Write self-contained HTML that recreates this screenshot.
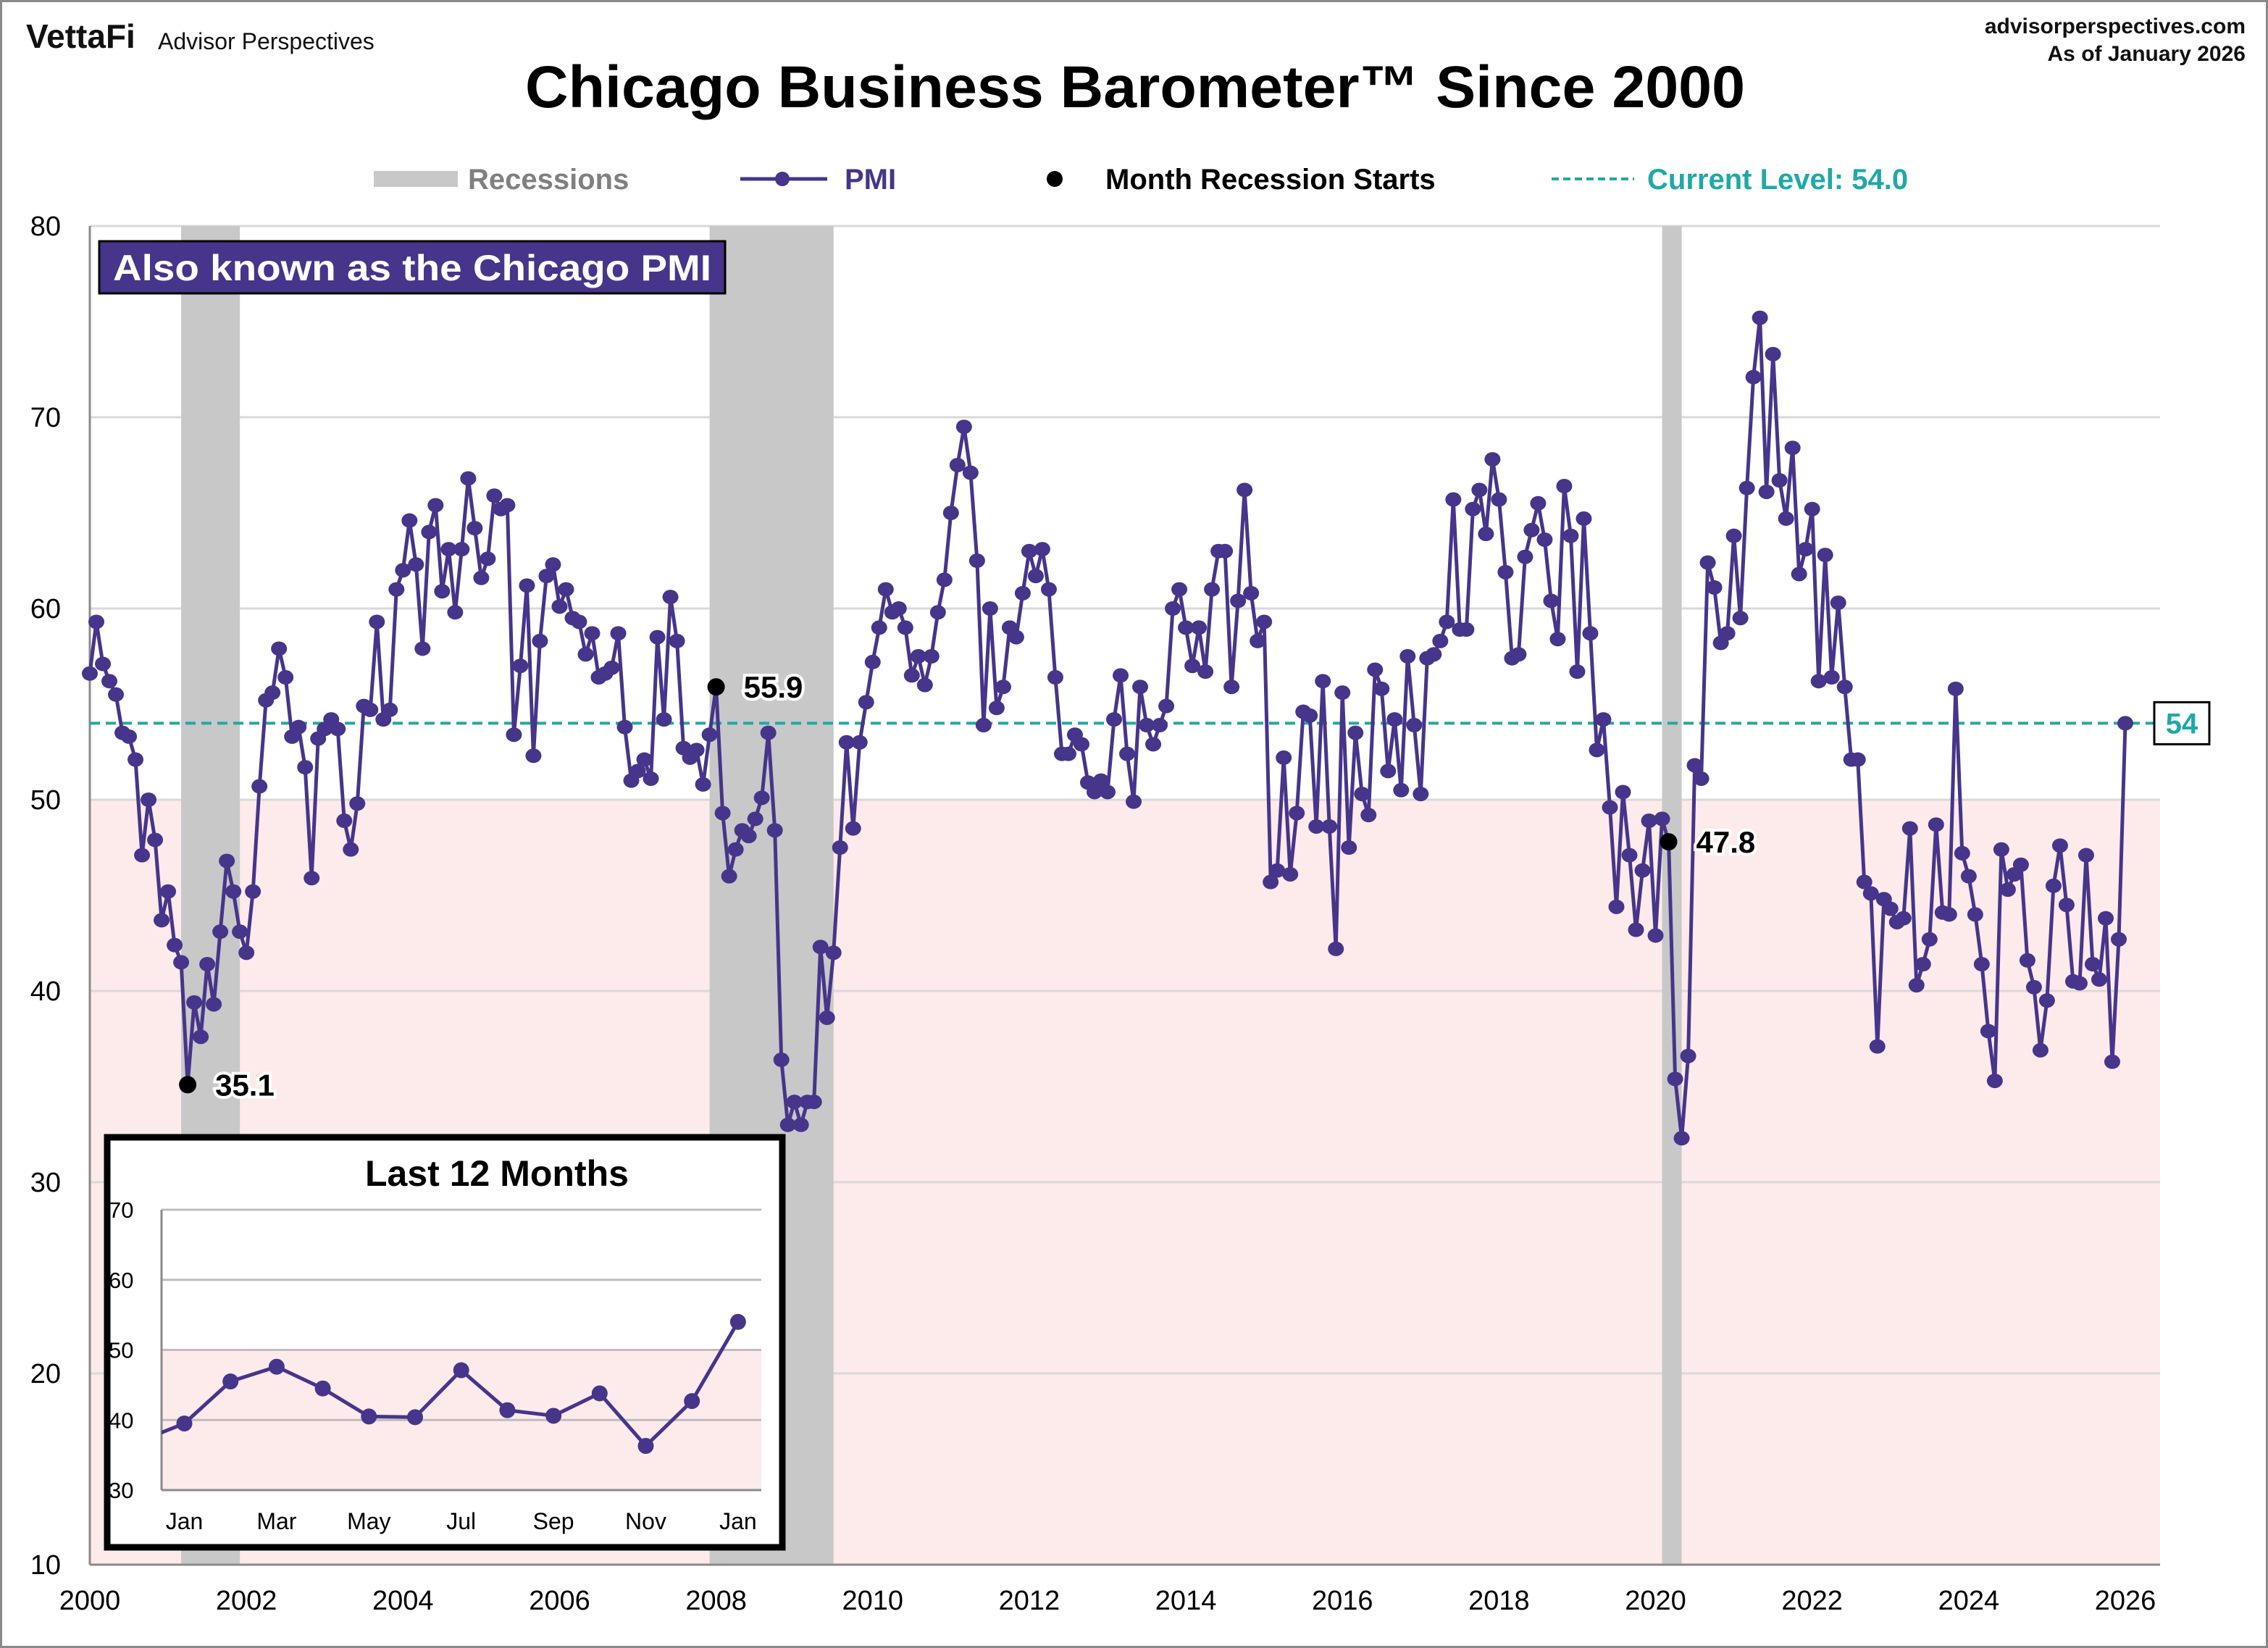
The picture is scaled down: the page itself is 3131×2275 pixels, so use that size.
<!DOCTYPE html>
<html><head><meta charset="utf-8"><title>Chicago Business Barometer Since 2000</title>
<style>
html,body{margin:0;padding:0;background:#fff;}
svg{display:block;font-family:"Liberation Sans",Arial,sans-serif;}
</style></head>
<body>
<svg id="chart" xmlns="http://www.w3.org/2000/svg" width="3131" height="2275" viewBox="0 0 3131 2275">
  <rect x="1.5" y="1.5" width="3128" height="2272" fill="#fff" stroke="#8a8a8a" stroke-width="3"/>
  <g id="plot"></g>
  <text x="36" y="66" font-size="46" font-weight="bold" fill="#111">VettaFi</text>
  <text x="218" y="68" font-size="32" fill="#111">Advisor Perspectives</text>
  <text x="3100" y="46" font-size="30" font-weight="bold" text-anchor="end" fill="#111">advisorperspectives.com</text>
  <text x="3100" y="84" font-size="30" font-weight="bold" text-anchor="end" fill="#111">As of January 2026</text>
  <text x="1567" y="148" font-size="82" font-weight="bold" text-anchor="middle" textLength="1684" lengthAdjust="spacingAndGlyphs" fill="#000">Chicago Business Barometer™ Since 2000</text>
  <g>
    <g>
      <rect x="516" y="236" width="116" height="22" fill="#c8c8c8"/>
      <text x="646" y="261" font-size="40" font-weight="bold" fill="#808080">Recessions</text>
    </g>
    <g>
      <line x1="1022" y1="247" x2="1142" y2="247" stroke="#46358a" stroke-width="5"/>
      <circle cx="1080" cy="247" r="10" fill="#46358a"/>
      <text x="1166" y="261" font-size="40" font-weight="bold" fill="#46358a">PMI</text>
    </g>
    <g>
      <circle cx="1456" cy="247" r="11" fill="#000"/>
      <text x="1526" y="261" font-size="40" font-weight="bold" fill="#000">Month Recession Starts</text>
    </g>
    <g>
      <line x1="2142" y1="247" x2="2256" y2="247" stroke="#20a8a8" stroke-width="4" stroke-dasharray="10,6"/>
      <text x="2274" y="261" font-size="40" font-weight="bold" fill="#20a8a8">Current Level: 54.0</text>
    </g>
  </g>
</svg>
<script>
const startYear = 2000;
const pmi2000 = [56.6,59.3,57.1,56.2,55.5,53.5,53.3,52.1,47.1,50.0,47.9,43.7];
const pmi2001 = [45.2,42.4,41.5,35.1,39.4,37.6,41.4,39.3,43.1,46.8,45.2,43.1];
const pmi2002 = [42.0,45.2,50.7,55.2,55.6,57.9,56.4,53.3,53.8,51.7,45.9,53.2];
const pmi2003 = [53.7,54.2,53.7,48.9,47.4,49.8,54.9,54.7,59.3,54.2,54.7,61.0];
const pmi2004 = [62.0,64.6,62.3,57.9,64.0,65.4,60.9,63.1,59.8,63.1,66.8,64.2];
const pmi2005 = [61.6,62.6,65.9,65.2,65.4,53.4,57.0,61.2,52.3,58.3,61.7,62.3];
const pmi2006 = [60.1,61.0,59.5,59.3,57.6,58.7,56.4,56.6,56.9,58.7,53.8,51.0];
const pmi2007 = [51.5,52.1,51.1,58.5,54.2,60.6,58.3,52.7,52.2,52.6,50.8,53.4];
const pmi2008 = [55.9,49.3,46.0,47.4,48.4,48.1,49.0,50.1,53.5,48.4,36.4,33.0];
const pmi2009 = [34.2,33.0,34.2,34.2,42.3,38.6,42.0,47.5,53.0,48.5,53.0,55.1];
const pmi2010 = [57.2,59.0,61.0,59.8,60.0,59.0,56.5,57.5,56.0,57.5,59.8,61.5];
const pmi2011 = [65.0,67.5,69.5,67.1,62.5,53.9,60.0,54.8,55.9,59.0,58.5,60.8];
const pmi2012 = [63.0,61.7,63.1,61.0,56.4,52.4,52.4,53.4,52.9,50.9,50.4,51.0];
const pmi2013 = [50.4,54.2,56.5,52.4,49.9,55.9,53.9,52.9,53.9,54.9,60.0,61.0];
const pmi2014 = [59.0,57.0,59.0,56.7,61.0,63.0,63.0,55.9,60.4,66.2,60.8,58.3];
const pmi2015 = [59.3,45.7,46.3,52.2,46.1,49.3,54.6,54.4,48.6,56.2,48.6,42.2];
const pmi2016 = [55.6,47.5,53.5,50.3,49.2,56.8,55.8,51.5,54.2,50.5,57.5,53.9];
const pmi2017 = [50.3,57.4,57.6,58.3,59.3,65.7,58.9,58.9,65.2,66.2,63.9,67.8];
const pmi2018 = [65.7,61.9,57.4,57.6,62.7,64.1,65.5,63.6,60.4,58.4,66.4,63.8];
const pmi2019 = [56.7,64.7,58.7,52.6,54.2,49.6,44.4,50.4,47.1,43.2,46.3,48.9];
const pmi2020 = [42.9,49.0,47.8,35.4,32.3,36.6,51.8,51.1,62.4,61.1,58.2,58.7];
const pmi2021 = [63.8,59.5,66.3,72.1,75.2,66.1,73.3,66.7,64.7,68.4,61.8,63.1];
const pmi2022 = [65.2,56.2,62.8,56.4,60.3,55.9,52.1,52.1,45.7,45.1,37.1,44.8];
const pmi2023 = [44.3,43.6,43.8,48.5,40.3,41.4,42.7,48.7,44.1,44.0,55.8,47.2];
const pmi2024 = [46.0,44.0,41.4,37.9,35.3,47.4,45.3,46.1,46.6,41.6,40.2,36.9];
const pmi2025 = [39.5,45.5,47.6,44.5,40.5,40.4,47.1,41.4,40.6,43.8,36.3,42.7];
const pmi2026 = [54.0];
const currentLevel = 54.0;
const yTicks = [10,20,30,40,50,60,70,80];
const xTickYears = [2000,2002,2004,2006,2008,2010,2012,2014,2016,2018,2020,2022,2024,2026];
const recessionStartIdx = [14, 95, 241];
const recessionEndIdx = [23, 114, 244];
const markerIdx = [15, 96, 242];
const markerLabels = ["35.1","55.9","47.8"];
const insetMonths = ["Jan","Mar","May","Jul","Sep","Nov","Jan"];
const insetTicks = [30,40,50,60,70];

const pmi = [].concat(pmi2000,pmi2001,pmi2002,pmi2003,pmi2004,pmi2005,pmi2006,pmi2007,pmi2008,pmi2009,pmi2010,pmi2011,pmi2012,pmi2013,pmi2014,pmi2015,pmi2016,pmi2017,pmi2018,pmi2019,pmi2020,pmi2021,pmi2022,pmi2023,pmi2024,pmi2025,pmi2026);

const NS = "http://www.w3.org/2000/svg";
const svg = document.getElementById('chart');
const plot = document.getElementById('plot');
const L = 124, R = 2982, T = 312, B = 2160;
const yMin = 10, yMax = 80;
const nMonths = (2026 - startYear) * 12;
function x(i){ return L + i * (2934 - L) / nMonths; }
function y(v){ return B - (v - yMin) * (B - T) / (yMax - yMin); }
function mk(tag, attrs, parent){ const e = document.createElementNS(NS, tag); for (const k in attrs) e.setAttribute(k, attrs[k]); (parent||plot).appendChild(e); return e; }

let e = mk('rect', {x:L, y:y(50), width:R-L, height:B-y(50), fill:'#fdeaea'});


yTicks.forEach(v => {
  if (v === yMin) return;
  const g = mk('line', {x1:L, x2:R, y1:y(v), y2:y(v), stroke:'#d9d9d9', 'stroke-width':3});
  
  
});
recessionStartIdx.forEach((s, k) => {
  const r = mk('rect', {x:x(s), y:T, width:x(recessionEndIdx[k]) - x(s), height:B - T, fill:'#c8c8c8'});
  
  
});
e = mk('line', {x1:L, x2:L, y1:T, y2:B, stroke:'#8a8a8a', 'stroke-width':3});


e = mk('line', {x1:L, x2:R, y1:B, y2:B, stroke:'#8a8a8a', 'stroke-width':3});


yTicks.forEach(v => {
  const t = mk('text', {x:84, y:y(v) + 13, 'font-size':38, 'text-anchor':'end', fill:'#000'});
  t.textContent = v;
  
  
});
xTickYears.forEach(yr => {
  const t = mk('text', {x:x((yr - startYear) * 12), y:2222, 'font-size':38, 'text-anchor':'middle', fill:'#000'});
  t.textContent = yr;
  
  
});
e = mk('line', {x1:L, x2:R, y1:y(currentLevel), y2:y(currentLevel), stroke:'#20a8a8', 'stroke-width':4, 'stroke-dasharray':'14,8'});


e = mk('rect', {x:2974, y:y(currentLevel) - 29, width:76, height:58, fill:'#fff', stroke:'#000', 'stroke-width':3});


e = mk('text', {x:3012, y:y(currentLevel) + 14, 'font-size':40, 'font-weight':'bold', 'text-anchor':'middle', fill:'#20a8a8'});
e.textContent = Math.round(currentLevel);


e = mk('polyline', {points: pmi.map((v,i) => x(i).toFixed(1) + ',' + y(v).toFixed(1)).join(' '), fill:'none', stroke:'#46358a', 'stroke-width':5, 'stroke-linejoin':'round'});


pmi.forEach((v,i) => {
  const c = mk('ellipse', {cx:x(i), cy:y(v), rx:11, ry:10, fill:'#46358a'});
  
  
});
markerIdx.forEach((i,k) => {
  const c = mk('circle', {cx:x(i), cy:y(pmi[i]), r:12, fill:'#000'});
  
  
  const t = mk('text', {x:x(i) + 38, y:y(pmi[i]) + 15, 'font-size':42, 'font-weight':'bold', fill:'#000', stroke:'#fff', 'stroke-width':8, 'paint-order':'stroke'});
  t.textContent = markerLabels[k];
  
  
});
e = mk('rect', {x:137, y:333, width:864, height:72, fill:'#46358a', stroke:'#000', 'stroke-width':3});


e = mk('text', {x:156, y:387, 'font-size':50, 'font-weight':'bold', fill:'#fff', textLength:826, lengthAdjust:'spacingAndGlyphs'});
e.textContent = 'Also known as the Chicago PMI';



const inset = mk('g', {});


const IL = 223, IR = 1051, IT = 1670, IB = 2057;
const iStart = pmi.length - 13;
function ix(k){ return 254.5 + k * 63.7; }
function iy(v){ return IB - (v - 30) * (IB - IT) / 40; }
e = mk('rect', {x:148, y:1570, width:932, height:566, fill:'#fff', stroke:'#000', 'stroke-width':9}, inset);


e = mk('rect', {x:IL, y:iy(50), width:IR-IL, height:IB-iy(50), fill:'#fdeaea'}, inset);


insetTicks.forEach(v => {
  const g = mk('line', {x1:IL, x2:IR, y1:iy(v), y2:iy(v), stroke:v===30?'#8a8a8a':'#bdbdbd', 'stroke-width':3}, inset);
  
  
  const t = mk('text', {x:150, y:iy(v) + 11, 'font-size':31, fill:'#000'}, inset);
  t.textContent = v;
  
  
});
e = mk('line', {x1:IL, x2:IL, y1:IT, y2:IB, stroke:'#8a8a8a', 'stroke-width':3}, inset);


const cp = mk('clipPath', {id:'insetClip'}, inset);
mk('rect', {x:IL, y:IT - 20, width:IR-IL, height:IB-IT + 40}, cp);
const pts = [];
for (let k = -1; k <= 12; k++) pts.push(ix(k).toFixed(1) + ',' + iy(pmi[iStart + k]).toFixed(1));
e = mk('polyline', {points:pts.join(' '), fill:'none', stroke:'#46358a', 'stroke-width':5, 'clip-path':'url(#insetClip)'}, inset);


for (let k = 0; k <= 12; k++) {
  const c = mk('ellipse', {cx:ix(k), cy:iy(pmi[iStart + k]), rx:11, ry:11, fill:'#46358a'}, inset);
  
  
}
insetMonths.forEach((m,k) => {
  const t = mk('text', {x:ix(k*2), y:2111, 'font-size':32, 'text-anchor':'middle', fill:'#000'}, inset);
  t.textContent = m;
  
  
});
e = mk('text', {x:686, y:1637, 'font-size':50, 'font-weight':'bold', 'text-anchor':'middle', fill:'#000'}, inset);
e.textContent = 'Last 12 Months';


</script>
</body></html>
